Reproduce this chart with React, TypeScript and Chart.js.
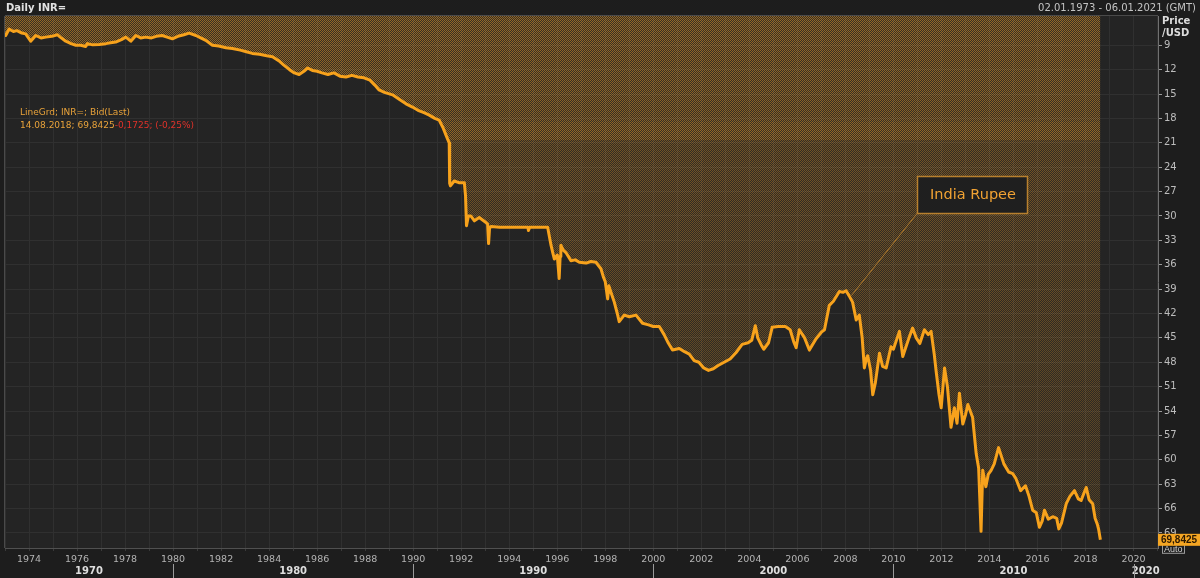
import React, { useEffect, useRef } from "react";
import { Chart, registerables } from "chart.js";

Chart.register(...registerables);

// ---- data (decimal year, INR per USD) ----
const DATES: number[] = [
  1973.0, 1973.03, 1973.17, 1973.35, 1973.5, 1973.7, 1973.86, 1974.07, 1974.28, 1974.5,
  1974.7, 1974.95, 1975.18, 1975.3, 1975.53, 1975.75, 1975.95, 1976.15, 1976.36, 1976.43,
  1976.65, 1976.92, 1977.2, 1977.4, 1977.61, 1977.85, 1978.03, 1978.24, 1978.45, 1978.65,
  1978.86, 1979.1, 1979.3, 1979.55, 1979.75, 1979.97, 1980.2, 1980.45, 1980.67, 1980.95,
  1981.15, 1981.36, 1981.64, 1981.9, 1982.2, 1982.47, 1982.8, 1983.05, 1983.3, 1983.6,
  1983.9, 1984.14, 1984.4, 1984.6, 1984.85, 1985.05, 1985.25, 1985.45, 1985.6, 1985.8,
  1986.0, 1986.2, 1986.45, 1986.7, 1986.95, 1987.2, 1987.45, 1987.7, 1987.95, 1988.2,
  1988.4, 1988.58, 1988.8, 1989.14, 1989.4, 1989.7, 1989.97, 1990.2, 1990.45, 1990.67,
  1990.9, 1991.08, 1991.25, 1991.4, 1991.5, 1991.52, 1991.55, 1991.71, 1991.9, 1992.13,
  1992.18, 1992.22, 1992.3, 1992.4, 1992.55, 1992.75, 1993.03, 1993.1, 1993.14, 1993.18,
  1993.24, 1993.6, 1994.0, 1994.5, 1994.78, 1994.8, 1994.85, 1995.3, 1995.6, 1995.74,
  1995.82, 1995.88, 1996.0, 1996.08, 1996.12, 1996.15, 1996.25, 1996.36, 1996.57, 1996.75,
  1996.92, 1997.2, 1997.4, 1997.61, 1997.82, 1997.92, 1998.0, 1998.1, 1998.15, 1998.25,
  1998.375, 1998.5, 1998.58, 1998.79, 1999.0, 1999.28, 1999.55, 1999.8, 2000.0, 2000.25,
  2000.45, 2000.6, 2000.8, 2001.08, 2001.3, 2001.5, 2001.7, 2001.9, 2002.1, 2002.3,
  2002.5, 2002.7, 2002.95, 2003.2, 2003.45, 2003.7, 2003.95, 2004.1, 2004.25, 2004.35,
  2004.5, 2004.6, 2004.8, 2004.95, 2005.2, 2005.5, 2005.7, 2005.85, 2005.95, 2006.08,
  2006.3, 2006.5, 2006.78, 2007.0, 2007.13, 2007.33, 2007.5, 2007.75, 2007.9, 2008.03,
  2008.15, 2008.3, 2008.45, 2008.58, 2008.7, 2008.79, 2008.88, 2008.93, 2009.05, 2009.14,
  2009.25, 2009.42, 2009.55, 2009.7, 2009.9, 2010.0, 2010.25, 2010.39, 2010.5, 2010.65,
  2010.8, 2010.95, 2011.1, 2011.29, 2011.45, 2011.57, 2011.7, 2011.78, 2011.9, 2011.99,
  2012.13, 2012.25, 2012.4, 2012.54, 2012.65, 2012.75, 2012.89, 2013.0, 2013.1, 2013.3,
  2013.45, 2013.55, 2013.65, 2013.72, 2013.85, 2013.95, 2014.07, 2014.2, 2014.38, 2014.6,
  2014.8, 2014.97, 2015.1, 2015.3, 2015.5, 2015.65, 2015.8, 2015.95, 2016.08, 2016.2,
  2016.29, 2016.45, 2016.64, 2016.8, 2016.89, 2017.0, 2017.2, 2017.35, 2017.54, 2017.7,
  2017.82, 2017.95, 2018.03, 2018.15, 2018.3, 2018.4, 2018.5, 2018.55, 2018.62,
];

const RATES: number[] = [
  7.6, 7.8, 7.0, 7.3, 7.2, 7.5, 7.6, 8.5, 7.8, 8.1,
  8.0, 7.9, 7.7, 8.0, 8.5, 8.8, 9.0, 9.0, 9.15, 8.8,
  8.95, 8.9, 8.8, 8.7, 8.6, 8.3, 8.0, 8.5, 7.8, 8.1,
  8.0, 8.1, 7.9, 7.8, 8.0, 8.2, 7.9, 7.7, 7.5, 7.8,
  8.1, 8.4, 9.0, 9.1, 9.3, 9.4, 9.6, 9.8, 10.0, 10.1,
  10.3, 10.4, 10.9, 11.4, 12.0, 12.4, 12.6, 12.2, 11.8, 12.1,
  12.2, 12.4, 12.6, 12.4, 12.8, 12.9, 12.7, 12.9, 13.0, 13.3,
  13.9, 14.5, 14.8, 15.1, 15.6, 16.2, 16.6, 17.0, 17.3, 17.6,
  18.0, 18.2, 19.2, 20.3, 21.0, 26.0, 26.3, 25.7, 25.9, 25.9,
  27.5, 31.2, 30.0, 30.0, 30.6, 30.2, 30.8, 31.0, 33.4, 31.5,
  31.3, 31.4, 31.4, 31.4, 31.4, 31.8, 31.4, 31.4, 31.4, 33.6,
  34.6, 35.3, 34.8, 37.7, 35.0, 33.6, 34.2, 34.5, 35.5, 35.4,
  35.7, 35.8, 35.6, 35.7, 36.5, 37.5, 38.1, 40.2, 38.6, 39.5,
  40.6, 42.0, 43.0, 42.2, 42.4, 42.2, 43.2, 43.4, 43.6, 43.6,
  44.6, 45.5, 46.5, 46.3, 46.7, 47.0, 47.8, 48.0, 48.7, 49.0,
  48.8, 48.4, 48.0, 47.6, 46.8, 45.8, 45.6, 45.3, 43.5, 45.0,
  45.9, 46.4, 45.6, 43.7, 43.6, 43.6, 44.0, 45.5, 46.2, 44.0,
  45.0, 46.5, 45.1, 44.3, 44.0, 41.0, 40.5, 39.3, 39.4, 39.2,
  39.8, 40.6, 42.8, 42.2, 45.0, 48.7, 47.5, 47.2, 49.0, 52.0,
  50.5, 46.9, 48.5, 48.7, 46.1, 46.4, 44.2, 47.3, 46.3, 45.0,
  43.8, 45.0, 45.7, 44.0, 44.6, 44.2, 47.0, 49.1, 52.0, 53.6,
  48.7, 51.0, 56.0, 53.6, 55.5, 51.8, 55.6, 54.5, 53.2, 54.8,
  59.3, 61.0, 68.8, 61.3, 63.3, 61.8, 61.3, 60.5, 58.5, 60.5,
  61.5, 61.7, 62.3, 63.8, 63.2, 64.5, 66.2, 66.5, 68.3, 67.5,
  66.2, 67.3, 67.0, 67.2, 68.5, 67.8, 65.4, 64.5, 63.8, 64.8,
  65.0, 64.0, 63.4, 64.9, 65.4, 67.2, 68.0, 68.6, 69.84,
];

const Y_TICKS = [9, 12, 15, 18, 21, 24, 27, 30, 33, 36, 39, 42, 45, 48, 51, 54, 57, 60, 63, 66, 69];
const X_LABEL_YEARS = [
  1974, 1976, 1978, 1980, 1982, 1984, 1986, 1988, 1990, 1992, 1994, 1996,
  1998, 2000, 2002, 2004, 2006, 2008, 2010, 2012, 2014, 2016, 2018, 2020,
];
const DECADES = [1970, 1980, 1990, 2000, 2010, 2020];

const TITLE = "Daily INR=";
const RANGE_TEXT = "02.01.1973 - 06.01.2021 (GMT)";
const AXIS_TITLE = ["Price", "/USD"];
const LEGEND_1 = "LineGrd; INR=; Bid(Last)";
const LEGEND_2A = "14.08.2018; 69,8425";
const LEGEND_2B = "-0,1725; (-0,25%)";
const LAST_VALUE_TEXT = "69,8425";
const LAST_VALUE = 69.8425;
const ANNOTATION = "India Rupee";
const ANNOT_ANCHOR = { x: 2008.25, y: 39.8 };

const X_MIN = 1973.0;
const X_MAX = 2021.02;
const Y_MIN = 5.4;
const Y_MAX = 70.85;

const FONT = "'DejaVu Sans', 'Liberation Sans', sans-serif";
const NARROW = "'Liberation Sans', Arial, sans-serif";
const ORANGE = "#f7a21c";

function makePattern(ctx: CanvasRenderingContext2D, h: number): CanvasPattern | string {
  const c = document.createElement("canvas");
  c.width = 2;
  c.height = h;
  const g = c.getContext("2d");
  if (!g) return "rgba(240,160,40,0.3)";
  for (let y = 0; y < h; y++) {
    let a: number;
    if (y < 122) a = 0.56 - ((y - 16) / 106) * 0.06;
    else if (y < 140) a = 0.56;
    else a = 0.4 - ((y - 140) / 400) * 0.18;
    g.fillStyle = `rgba(236,156,40,${a})`;
    g.fillRect(y % 2, y, 1, 1);
    g.fillStyle = `rgba(236,156,40,${a * 0.18})`;
    g.fillRect((y + 1) % 2, y, 1, 1);
  }
  return ctx.createPattern(c, "repeat") || "rgba(240,160,40,0.3)";
}

const decorPlugin = {
  id: "decor",
  beforeDraw(chart: any) {
    const { ctx, chartArea: a } = chart;
    ctx.save();
    ctx.fillStyle = "#1d1d1d";
    ctx.fillRect(0, 0, chart.width, chart.height);
    ctx.fillStyle = "#242424";
    ctx.fillRect(a.left, a.top, a.right - a.left, a.bottom - a.top);
    ctx.restore();
  },
  afterDraw(chart: any) {
    const { ctx, chartArea: a, scales } = chart;
    const xs = scales.x;
    const ys = scales.y;
    ctx.save();

    // frame lines
    ctx.strokeStyle = "#4a4a4a";
    ctx.lineWidth = 1;
    ctx.beginPath();
    ctx.moveTo(a.left - 0.5, a.top);
    ctx.lineTo(a.left - 0.5, a.bottom);
    ctx.moveTo(a.left, a.top - 0.5);
    ctx.lineTo(a.right, a.top - 0.5);
    ctx.stroke();

    // header
    ctx.textBaseline = "middle";
    ctx.fillStyle = "#e2e2e2";
    ctx.font = `bold 10px ${FONT}`;
    ctx.textAlign = "left";
    ctx.fillText(TITLE, 6, 8);
    ctx.font = `10px ${FONT}`;
    ctx.fillStyle = "#c4c4c4";
    ctx.textAlign = "right";
    ctx.fillText(RANGE_TEXT, 1196, 8);

    // axis title
    ctx.textAlign = "left";
    ctx.font = `bold 10px ${FONT}`;
    ctx.fillStyle = "#dcdcdc";
    ctx.fillText(AXIS_TITLE[0], 1162, 21);
    ctx.fillText(AXIS_TITLE[1], 1162, 33);

    // legend text
    ctx.font = `9px ${FONT}`;
    ctx.fillStyle = "#e8a23a";
    ctx.fillText(LEGEND_1, 20, 113);
    ctx.fillText(LEGEND_2A, 20, 126);
    const w2 = ctx.measureText(LEGEND_2A).width;
    ctx.fillStyle = "#e0322a";
    ctx.fillText(LEGEND_2B, 20 + w2, 126);

    // annotation
    const ax = xs.getPixelForValue(ANNOT_ANCHOR.x);
    const ay = ys.getPixelForValue(ANNOT_ANCHOR.y);
    const bx = 917, by = 176, bw = 110, bh = 37;
    ctx.strokeStyle = "#b07a2c";
    ctx.lineWidth = 1;
    ctx.beginPath();
    ctx.moveTo(ax, ay);
    ctx.lineTo(bx + 0.5, by + bh);
    ctx.stroke();
    ctx.fillStyle = "#1f1f1f";
    ctx.fillRect(bx, by, bw, bh);
    ctx.strokeStyle = "#b8802e";
    ctx.lineWidth = 1.5;
    ctx.strokeRect(bx + 0.5, by + 0.5, bw, bh);
    ctx.fillStyle = "#f0a233";
    ctx.font = `14.5px ${FONT}`;
    ctx.textAlign = "center";
    ctx.fillText(ANNOTATION, bx + bw / 2 + 1, by + bh / 2 + 1);

    // decade row
    ctx.font = `bold 10px ${FONT}`;
    ctx.fillStyle = "#dedede";
    DECADES.forEach((d) => {
      const x0 = Math.max(xs.getPixelForValue(d), a.left);
      const x1 = Math.min(xs.getPixelForValue(d + 10), a.right);
      if (x1 > x0) ctx.fillText(String(d), (x0 + x1) / 2, 571);
      const xd = xs.getPixelForValue(d);
      if (xd > a.left && xd < a.right) {
        ctx.strokeStyle = "#9a9a9a";
        ctx.lineWidth = 1;
        ctx.beginPath();
        ctx.moveTo(Math.round(xd) + 0.5, 564);
        ctx.lineTo(Math.round(xd) + 0.5, 578);
        ctx.stroke();
      }
    });

    // Auto box + last value box
    const vy = ys.getPixelForValue(LAST_VALUE);
    ctx.fillStyle = "#1d1d1d";
    ctx.fillRect(1162, vy + 3, 22, 11);
    ctx.strokeStyle = "#9a9a9a";
    ctx.lineWidth = 1;
    ctx.strokeRect(1162.5, vy + 3.5, 22, 10);
    ctx.fillStyle = "#cfcfcf";
    ctx.font = `9px ${NARROW}`;
    ctx.textAlign = "left";
    ctx.fillText("Auto", 1164, vy + 9.5);

    ctx.fillStyle = "#f5a623";
    ctx.fillRect(a.right, vy - 6, 42, 12);
    ctx.fillStyle = "#2a1800";
    ctx.font = `bold 10px ${NARROW}`;
    ctx.textAlign = "center";
    ctx.fillText(LAST_VALUE_TEXT, a.right + 21, vy + 0.5);

    ctx.restore();
  },
};

export default function App() {
  const ref = useRef<HTMLCanvasElement | null>(null);

  useEffect(() => {
    document.body.style.margin = "0";
    document.body.style.background = "#1d1d1d";
    const canvas = ref.current;
    if (!canvas) return;
    const ctx = canvas.getContext("2d");
    if (!ctx) return;
    const pattern = makePattern(ctx, 578);

    const points = DATES.map((d, i) => ({ x: d, y: RATES[i] }));
    const gridYears: number[] = [];
    for (let y = 1973; y <= 2021; y++) gridYears.push(y);

    const chart = new Chart(ctx, {
      type: "line",
      data: {
        datasets: [
          {
            data: points,
            borderColor: ORANGE,
            borderWidth: 3,
            pointRadius: 0,
            tension: 0,
            fill: "end",
            backgroundColor: pattern as any,
            borderJoinStyle: "round",
          },
        ],
      },
      options: {
        responsive: false,
        devicePixelRatio: 1,
        animation: false,
        layout: { padding: { top: 16, left: 5, right: 0, bottom: 0 } },
        plugins: { legend: { display: false }, tooltip: { enabled: false } },
        scales: {
          x: {
            type: "linear",
            min: X_MIN,
            max: X_MAX,
            afterFit: (s: any) => {
              s.height = 30;
            },
            afterBuildTicks: (s: any) => {
              s.ticks = gridYears.map((v) => ({ value: v }));
            },
            ticks: {
              autoSkip: false,
              maxRotation: 0,
              minRotation: 0,
              padding: 3,
              color: "#b4b4b4",
              font: { family: FONT, size: 9.5 },
              callback: (v: any) => (X_LABEL_YEARS.includes(Number(v)) ? String(v) : ""),
            },
            grid: { color: "#303030", tickLength: 3, tickColor: "#3a3a3a" },
            border: { color: "#505050" },
          },
          y: {
            position: "right",
            reverse: true,
            min: Y_MIN,
            max: Y_MAX,
            afterFit: (s: any) => {
              s.width = 42;
            },
            afterBuildTicks: (s: any) => {
              s.ticks = Y_TICKS.map((v) => ({ value: v }));
            },
            ticks: {
              autoSkip: false,
              padding: 2,
              color: "#bdbdbd",
              font: { family: FONT, size: 10 },
              callback: (v: any) => String(v),
            },
            grid: { color: "#303030", tickLength: 4, tickColor: "#9a9a9a" },
            border: { color: "#707070" },
          },
        },
      },
      plugins: [decorPlugin],
    });

    return () => chart.destroy();
  }, []);

  return (
    <canvas
      ref={ref}
      width={1200}
      height={578}
      style={{ display: "block", width: 1200, height: 578 }}
    />
  );
}
